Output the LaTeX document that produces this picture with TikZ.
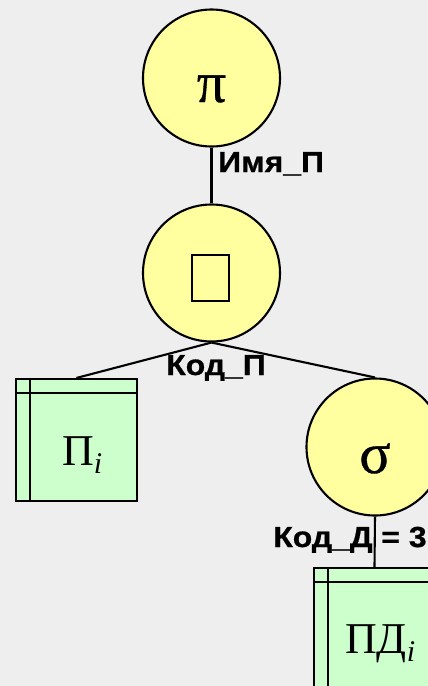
\documentclass[tikz,border=0pt]{standalone}
\usepackage{fontspec}
\setmainfont{Liberation Serif}
\newfontfamily\labfont[FakeStretch=1.1,FakeBold=0.8]{Liberation Sans}
\newfontfamily\symfont[FakeBold=0.6]{Liberation Serif}
\definecolor{bgc}{RGB}{238,238,238}
\definecolor{circfill}{RGB}{255,255,160}
\definecolor{tabfill}{RGB}{204,255,204}
\tikzset{
  opnode/.style={circle, draw=black, line width=2.1pt, fill=circfill, minimum size=137pt, inner sep=0pt},
  relbox/.style={rectangle, draw=black, line width=2.1pt, fill=tabfill, minimum width=121pt, minimum height=122pt, inner sep=0pt},
  conn/.style={draw=black, line width=2.1pt},
  edgelab/.style={font=\labfont\bfseries\fontsize{29}{29}\selectfont, inner sep=0pt},
  symlab/.style={font=\symfont\fontsize{58}{58}\selectfont, inner sep=0pt},
  rellab/.style={font=\fontsize{44}{44}\selectfont, inner sep=0pt}
}
\newcommand{\subi}{\raisebox{-8pt}{\fontsize{30}{30}\selectfont\itshape i}}
\begin{document}
\begin{tikzpicture}[x=1pt,y=-1pt]
\useasboundingbox (0,0) rectangle (428,686);
\fill[bgc] (0,0) rectangle (428,686);
\begin{scope}
\clip (0,0) rectangle (428,686);
% nodes
\node[opnode] (pi) at (211.5,78) {};
\node[opnode] (join) at (211.5,273) {};
\node[opnode] (sigma) at (375,447) {};
\node[relbox] (t1) at (76.5,440) {};
\node[relbox] (t2) at (374.5,629) {};
% symbols
\node[symlab, anchor=base] (pisym) at (211.5,102) {π};
\node[draw=black, line width=1.3pt, minimum width=37pt, minimum height=46pt, inner sep=0pt] (joinsym) at (210.5,278) {};
\node[symlab, anchor=base] (sigsym) at (375,473) {σ};
% table inner lines
\draw[line width=2.1pt] ([xshift=15pt]t1.north west) -- ([xshift=15pt]t1.south west);
\draw[line width=2.1pt] ([yshift=-15pt]t1.north west) -- ([yshift=-15pt]t1.north east);
\draw[line width=2.1pt] ([xshift=15pt]t2.north west) -- ([xshift=15pt]t2.south west);
\draw[line width=2.1pt] ([yshift=-15pt]t2.north west) -- ([yshift=-15pt]t2.north east);
% table labels
\node[rellab, anchor=base west] (t1lab) at (62,465) {П\subi};
\node[rellab, anchor=base west] (t2lab) at (345,653) {ПД\subi};
% connectors
\draw[conn] (pi.south) -- (join.north);
\draw[conn] (join.south) -- (t1.north);
\draw[conn] (join.south) -- (sigma.north);
\draw[conn] (sigma.south) -- (t2.north);
% edge labels
\node[edgelab, anchor=base west] (l1) at (218,172) {Имя\_П};
\node[edgelab, anchor=base] (l2) at (216,375) {Код\_П};
\node[edgelab, anchor=base] (l3) at (350,547) {Код\_Д = 3};
\end{scope}
\end{tikzpicture}
\end{document}
